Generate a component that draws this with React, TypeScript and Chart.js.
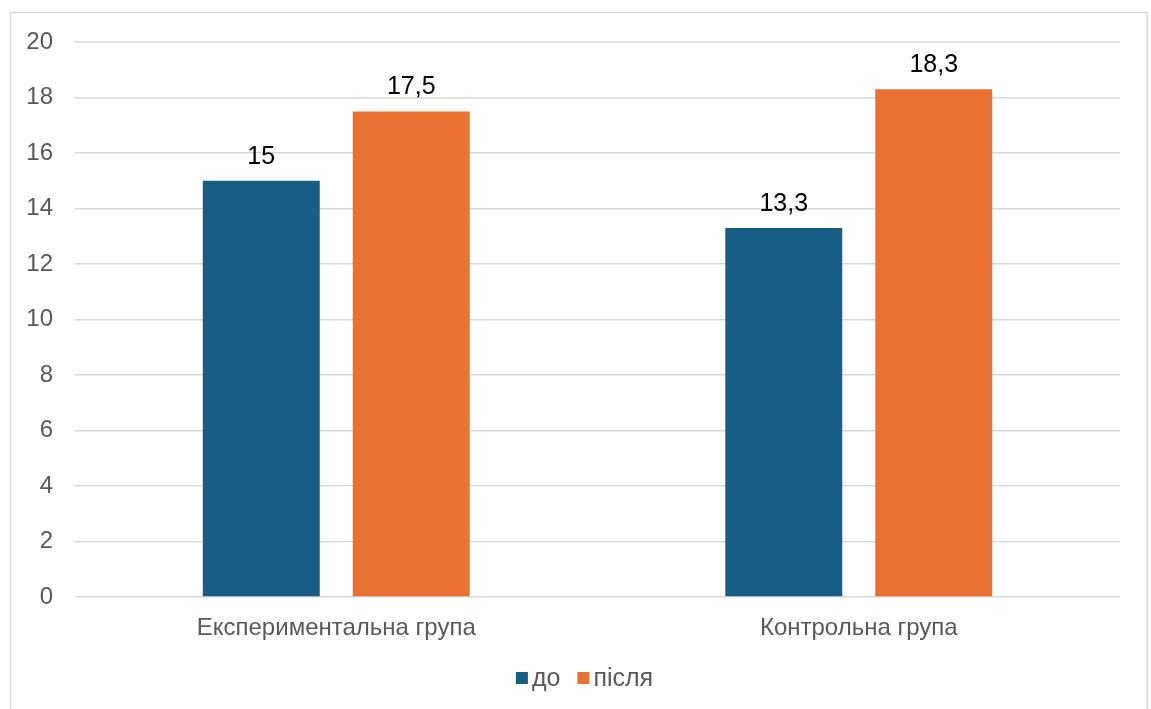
import React, { useEffect, useRef } from "react";
import { Chart, registerables } from "chart.js";

Chart.register(...registerables);

const categories = ["Експериментальна група", "Контрольна група"];
const seriesNames = ["до", "після"];
const beforeValues = [15, 13.3];
const afterValues = [17.5, 18.3];
const seriesColors = ["#165E83", "#E97132"];
const yTicks = [0, 2, 4, 6, 8, 10, 12, 14, 16, 18, 20];

const FONT = "'Liberation Sans', Arial, sans-serif";

const fmt = (v: number) => String(v).replace(".", ",");

const frame = {
  id: "frame",
  beforeDraw(chart: any) {
    const ctx = chart.ctx;
    ctx.save();
    ctx.fillStyle = "#ffffff";
    ctx.fillRect(0, 0, chart.width, chart.height);
    ctx.strokeStyle = "#d9d9d9";
    ctx.lineWidth = 1.5;
    ctx.strokeRect(10.5, 12.5, 1137, 740);
    ctx.restore();
  },
};

const valueLabels = {
  id: "valueLabels",
  afterDatasetsDraw(chart: any) {
    const ctx = chart.ctx;
    ctx.save();
    ctx.font = `25px ${FONT}`;
    ctx.fillStyle = "#000000";
    ctx.textAlign = "center";
    ctx.textBaseline = "alphabetic";
    chart.data.datasets.forEach((ds: any, i: number) => {
      const meta = chart.getDatasetMeta(i);
      meta.data.forEach((bar: any, j: number) => {
        ctx.fillText(fmt(ds.data[j]), bar.x, bar.y - 17);
      });
    });
    ctx.restore();
  },
};

const customLegend = {
  id: "customLegend",
  afterDraw(chart: any) {
    const ctx = chart.ctx;
    ctx.save();
    ctx.font = `25px ${FONT}`;
    ctx.textBaseline = "middle";
    const box = 12;
    const gapText = 4;
    const gapItem = 17;
    const items = chart.data.datasets.map((ds: any) => ({
      label: ds.label,
      color: ds.backgroundColor,
      w: box + gapText + ctx.measureText(ds.label).width,
    }));
    const total = items.reduce((s: number, it: any) => s + it.w, 0) + gapItem * (items.length - 1);
    const area = chart.chartArea;
    let x = (area.left + area.right) / 2 - 13 - total / 2;
    const y = 679;
    items.forEach((it: any) => {
      ctx.fillStyle = it.color;
      ctx.fillRect(x, y - box / 2 - 1, box, box);
      ctx.fillStyle = "#595959";
      ctx.textAlign = "left";
      ctx.fillText(it.label, x + box + gapText, y);
      x += it.w + gapItem;
    });
    ctx.restore();
  },
};

export default function App() {
  const ref = useRef<HTMLCanvasElement | null>(null);
  useEffect(() => {
    if (!ref.current) return;
    const chart = new Chart(ref.current, {
      type: "bar",
      data: {
        labels: categories,
        datasets: [
          {
            label: seriesNames[0],
            data: beforeValues,
            backgroundColor: seriesColors[0],
            categoryPercentage: 0.574,
            barPercentage: 0.78,
          },
          {
            label: seriesNames[1],
            data: afterValues,
            backgroundColor: seriesColors[1],
            categoryPercentage: 0.574,
            barPercentage: 0.78,
          },
        ],
      },
      options: {
        responsive: false,
        animation: false,
        layout: { padding: { top: 42, right: 31, bottom: 0, left: 0 } },
        plugins: {
          legend: { display: false },
          tooltip: { enabled: false },
        },
        scales: {
          x: {
            grid: { display: false, drawTicks: false },
            border: { display: false },
            ticks: {
              color: "#595959",
              font: { family: FONT, size: 24 },
              padding: 17,
            },
            afterFit: (s: any) => {
              s.height = 112;
            },
          },
          y: {
            min: 0,
            max: 20,
            afterBuildTicks: (s: any) => {
              s.ticks = yTicks.map((v) => ({ value: v }));
            },
            grid: { color: "#d9d9d9", lineWidth: 1.5, drawTicks: false },
            border: { display: false },
            ticks: {
              color: "#595959",
              font: { family: FONT, size: 24 },
              padding: 22,
            },
            afterFit: (s: any) => {
              s.width = 75;
            },
          },
        },
      },
      plugins: [frame, valueLabels, customLegend],
    });
    return () => chart.destroy();
  }, []);
  return (
    <canvas
      ref={ref}
      width={1151}
      height={709}
      style={{ position: "fixed", left: 0, top: 0, display: "block" }}
    />
  );
}
